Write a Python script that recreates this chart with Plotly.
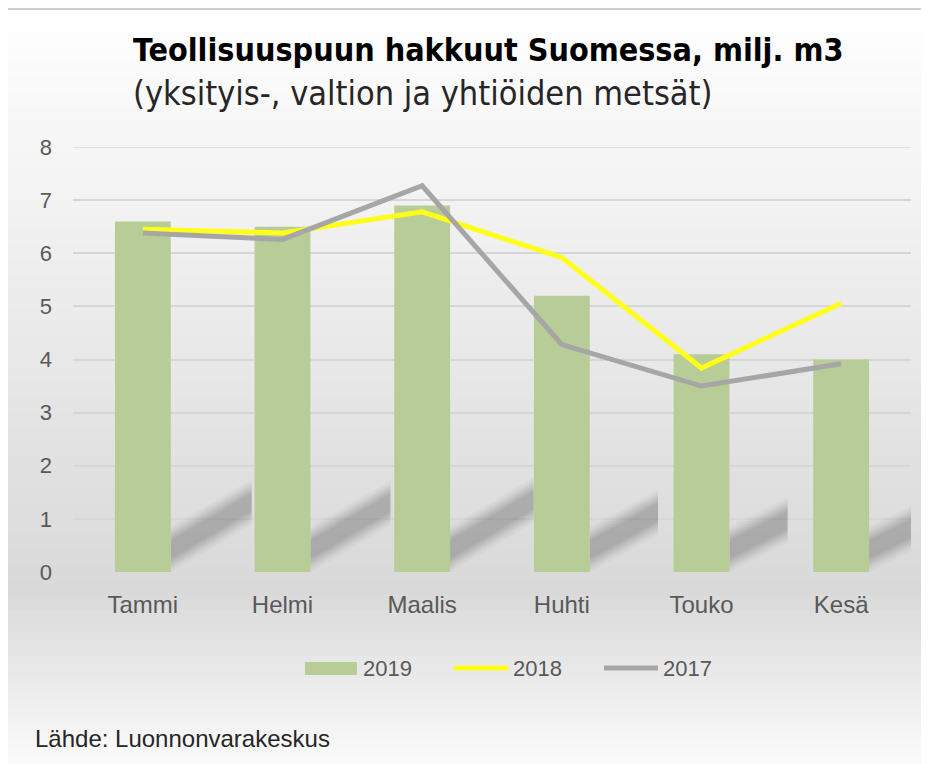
import plotly.graph_objects as go

months = ["Tammi", "Helmi", "Maalis", "Huhti", "Touko", "Kesä"]
v2019 = [6.6, 6.5, 6.9, 5.2, 4.1, 4.0]
v2018 = [6.45, 6.38, 6.78, 5.92, 3.84, 5.06]
v2017 = [6.38, 6.26, 7.27, 4.28, 3.5, 3.92]
yticks = [0, 1, 2, 3, 4, 5, 6, 7, 8]
series_names = ["2019", "2018", "2017"]
colors = ["#b7cc96", "#ffff1a", "#a6a6a6"]

# page body has an 8px margin; work in reference pixel coordinates
OFF = 8
W, H = 929 - OFF, 764 - OFF
L, R, T, B = 73 - OFF, 18, 147 - OFF, 764 - 572
pw, ph = W - L - R, H - T - B

def px(x):
    return (x - OFF - L) / pw

def py(y):
    return (764 - B - y) / ph

shapes = []
# background gradient
n = 100
y0, ymid, y1 = 8, 590, 770
for i in range(n):
    a = y0 + (y1 - y0) * i / n
    b = y0 + (y1 - y0) * (i + 1) / n
    c = (a + b) / 2
    if c <= ymid:
        g = 255 - (255 - 217) * (c - y0) / (ymid - y0)
    else:
        g = 217 + (252 - 217) * (c - ymid) / (y1 - ymid)
    g = int(round(g))
    shapes.append(dict(type="rect", xref="paper", yref="paper",
                       x0=px(7), x1=px(940), y0=py(b + 0.6), y1=py(a),
                       fillcolor=f"rgb({g},{g},{g})", line=dict(width=0),
                       layer="below"))
# frame
shapes.append(dict(type="rect", xref="paper", yref="paper",
                   x0=px(7), x1=px(950), y0=py(800), y1=py(9),
                   line=dict(color="#d0d0d0", width=2), fillcolor="rgba(0,0,0,0)",
                   layer="below"))
# decorative bar shadows (soft)
for i, v in enumerate(v2019):
    xr = i + 0.2
    dx = 0.15 + 0.065 * v
    rise = 0.135 * v
    for thick, op in [(0.85, 0.03), (0.75, 0.04), (0.65, 0.05), (0.55, 0.055), (0.45, 0.06), (0.35, 0.06)]:
        off = (0.85 - thick) / 2
        pts = [(xr, 0.0 + off), (xr + dx, rise + off),
               (xr + dx, rise + off + thick), (xr, 0.0 + off + thick)]
        path = "M " + " L ".join(f"{x:.4f},{y:.4f}" for x, y in pts) + " Z"
        shapes.append(dict(type="path", xref="x", yref="y", path=path,
                           fillcolor=f"rgba(40,40,40,{op})", line=dict(width=0),
                           layer="between"))

# custom legend marks
lg_y = 668
shapes.append(dict(type="rect", xref="paper", yref="paper",
                   x0=px(305), x1=px(357), y0=py(675), y1=py(662),
                   fillcolor=colors[0], line=dict(width=0)))
shapes.append(dict(type="line", xref="paper", yref="paper",
                   x0=px(454), x1=px(508), y0=py(lg_y), y1=py(lg_y),
                   line=dict(color=colors[1], width=5)))
shapes.append(dict(type="line", xref="paper", yref="paper",
                   x0=px(604), x1=px(658), y0=py(lg_y), y1=py(lg_y),
                   line=dict(color=colors[2], width=5)))

fig = go.Figure()
fig.add_trace(go.Bar(x=months, y=v2019, name=series_names[0], width=0.4,
                     marker=dict(color=colors[0], line=dict(width=0))))
fig.add_trace(go.Scatter(x=months, y=v2018, name=series_names[1], mode="lines",
                         line=dict(color=colors[1], width=5)))
fig.add_trace(go.Scatter(x=months, y=v2017, name=series_names[2], mode="lines",
                         line=dict(color=colors[2], width=5)))

title_font = "DejaVu Sans Condensed, Roboto, Liberation Sans, sans-serif"
ann = [
    dict(text="<b>Teollisuuspuun hakkuut Suomessa, milj. m3</b>", xref="paper", yref="paper",
         x=px(131), y=py(50), xanchor="left", yanchor="middle", showarrow=False,
         font=dict(family=title_font, size=32, color="#000000")),
    dict(text="(yksityis-, valtion ja yhtiöiden metsät)", xref="paper", yref="paper",
         x=px(131), y=py(93), xanchor="left", yanchor="middle", showarrow=False,
         font=dict(family=title_font, size=34, color="#262626")),
    dict(text="Lähde: Luonnonvarakeskus", xref="paper", yref="paper",
         x=px(33), y=py(738), xanchor="left", yanchor="middle", showarrow=False,
         font=dict(family="Liberation Sans", size=24, color="#262626")),
]
for name, xx in zip(series_names, [361, 511, 661]):
    ann.append(dict(text=name, xref="paper", yref="paper", x=px(xx), y=py(lg_y),
                    xanchor="left", yanchor="middle", showarrow=False,
                    font=dict(family="Liberation Sans", size=22, color="#595959")))

fig.update_layout(
    width=W, height=H,
    margin=dict(l=L, r=R, t=T, b=B),
    paper_bgcolor="white",
    plot_bgcolor="rgba(0,0,0,0)",
    shapes=shapes,
    showlegend=False,
    font=dict(family="Liberation Sans", size=19, color="#595959"),
    xaxis=dict(showgrid=False, showline=False, zeroline=False, ticks="",
               ticklabelstandoff=16,
               tickfont=dict(family="Liberation Sans", size=24, color="#595959"),
               range=[-0.5, 5.5]),
    yaxis=dict(range=[0, 8.0], tickvals=yticks, showgrid=True, gridcolor="#d6d6d6",
               gridwidth=1.5, zeroline=False, showline=False, ticks="",
               ticklabelstandoff=20,
               tickfont=dict(family="Liberation Sans", size=22, color="#595959")),
    annotations=ann,
)
# top gridline at 8 (plotly omits the gridline at the range edge)
fig.add_hline(y=8, line=dict(color="#d6d6d6", width=1.5), layer="below")

fig.write_html("out.html")
